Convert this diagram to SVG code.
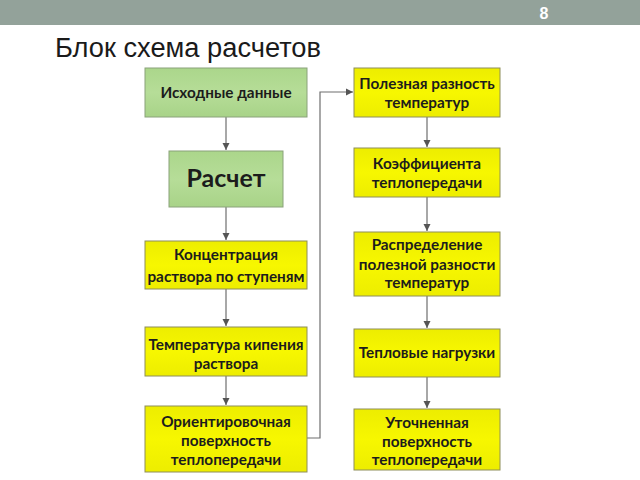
<svg xmlns="http://www.w3.org/2000/svg" width="640" height="480" viewBox="0 0 640 480">
<style>
.g{fill:url(#gg);stroke:#8AA27A;stroke-width:1}
.y{fill:url(#yg);stroke:#8E8E5A;stroke-width:1}
.t{font-family:Lato,"Noto Sans",sans-serif;font-weight:bold;font-size:15.3px;fill:#1c1c1c;text-anchor:middle}
.c{fill:none;stroke:#6E6E6E;stroke-width:1.2}
</style>
<defs>
<linearGradient id="yg" x1="0" y1="0" x2="0" y2="1">
<stop offset="0" stop-color="#EDED00"/><stop offset="0.5" stop-color="#F7F700"/><stop offset="1" stop-color="#EDED00"/>
</linearGradient>
<linearGradient id="gg" x1="0" y1="0" x2="0" y2="1">
<stop offset="0" stop-color="#ABD68B"/><stop offset="0.5" stop-color="#B6DD98"/><stop offset="1" stop-color="#A8D388"/>
</linearGradient>
<marker id="ah" markerWidth="8" markerHeight="8" refX="7" refY="4" orient="auto" markerUnits="userSpaceOnUse">
<path d="M0,0.5 L7,4 L0,7.5 Z" fill="#555"/>
</marker>
</defs>
<rect width="640" height="480" fill="#FFFFFF"/>
<rect x="0" y="0" width="640" height="25" fill="#93A29A"/>
<text x="544" y="19" font-family="'Liberation Sans',Arial,sans-serif" font-weight="bold" font-size="16" fill="#FFFFFF" text-anchor="middle">8</text>
<text x="55" y="57" font-family="'Liberation Sans',Arial,sans-serif" font-size="27" fill="#1a1a1a" textLength="266" lengthAdjust="spacingAndGlyphs">Блок схема расчетов</text>

<g id="connectors">
<line class="c" x1="226" y1="117" x2="226" y2="150" marker-end="url(#ah)"/>
<line class="c" x1="226" y1="207" x2="226" y2="240" marker-end="url(#ah)"/>
<line class="c" x1="226" y1="289" x2="226" y2="326" marker-end="url(#ah)"/>
<line class="c" x1="226" y1="376" x2="226" y2="405" marker-end="url(#ah)"/>
<polyline class="c" points="307,438 320,438 320,92 353,92" marker-end="url(#ah)"/>
<line class="c" x1="427" y1="117" x2="427" y2="147" marker-end="url(#ah)"/>
<line class="c" x1="427" y1="197" x2="427" y2="231" marker-end="url(#ah)"/>
<line class="c" x1="427" y1="296" x2="427" y2="328" marker-end="url(#ah)"/>
<line class="c" x1="427" y1="377" x2="427" y2="408" marker-end="url(#ah)"/>
</g>

<g id="n1"><rect class="g" x="145" y="68" width="162" height="49"/><text class="t" x="226" y="98">Исходные данные</text></g>
<g id="n2"><rect class="g" x="169" y="151" width="114" height="56"/><text class="t" x="226" y="187" style="font-size:25px">Расчет</text></g>
<g id="n3"><rect class="y" x="145" y="241" width="162" height="48"/><text class="t" x="226" y="260">Концентрация</text><text class="t" x="226" y="282">раствора по ступеням</text></g>
<g id="n4"><rect class="y" x="145" y="327" width="162" height="49"/><text class="t" x="226" y="350">Температура кипения</text><text class="t" x="226" y="369">раствора</text></g>
<g id="n5"><rect class="y" x="145" y="406" width="162" height="66"/><text class="t" x="226" y="427">Ориентировочная</text><text class="t" x="226" y="446">поверхность</text><text class="t" x="226" y="465">теплопередачи</text></g>

<g id="n6"><rect class="y" x="354" y="68" width="146" height="49"/><text class="t" x="427" y="89">Полезная разность</text><text class="t" x="427" y="108">температур</text></g>
<g id="n7"><rect class="y" x="354" y="148" width="146" height="49"/><text class="t" x="427" y="169">Коэффициента</text><text class="t" x="427" y="188">теплопередачи</text></g>
<g id="n8"><rect class="y" x="354" y="232" width="146" height="64"/><text class="t" x="427" y="250">Распределение</text><text class="t" x="427" y="270">полезной разности</text><text class="t" x="427" y="288">температур</text></g>
<g id="n9"><rect class="y" x="354" y="329" width="146" height="48"/><text class="t" x="427" y="358">Тепловые нагрузки</text></g>
<g id="n10"><rect class="y" x="354" y="409" width="146" height="61"/><text class="t" x="427" y="428">Уточненная</text><text class="t" x="427" y="447">поверхность</text><text class="t" x="427" y="465">теплопередачи</text></g>
</svg>
